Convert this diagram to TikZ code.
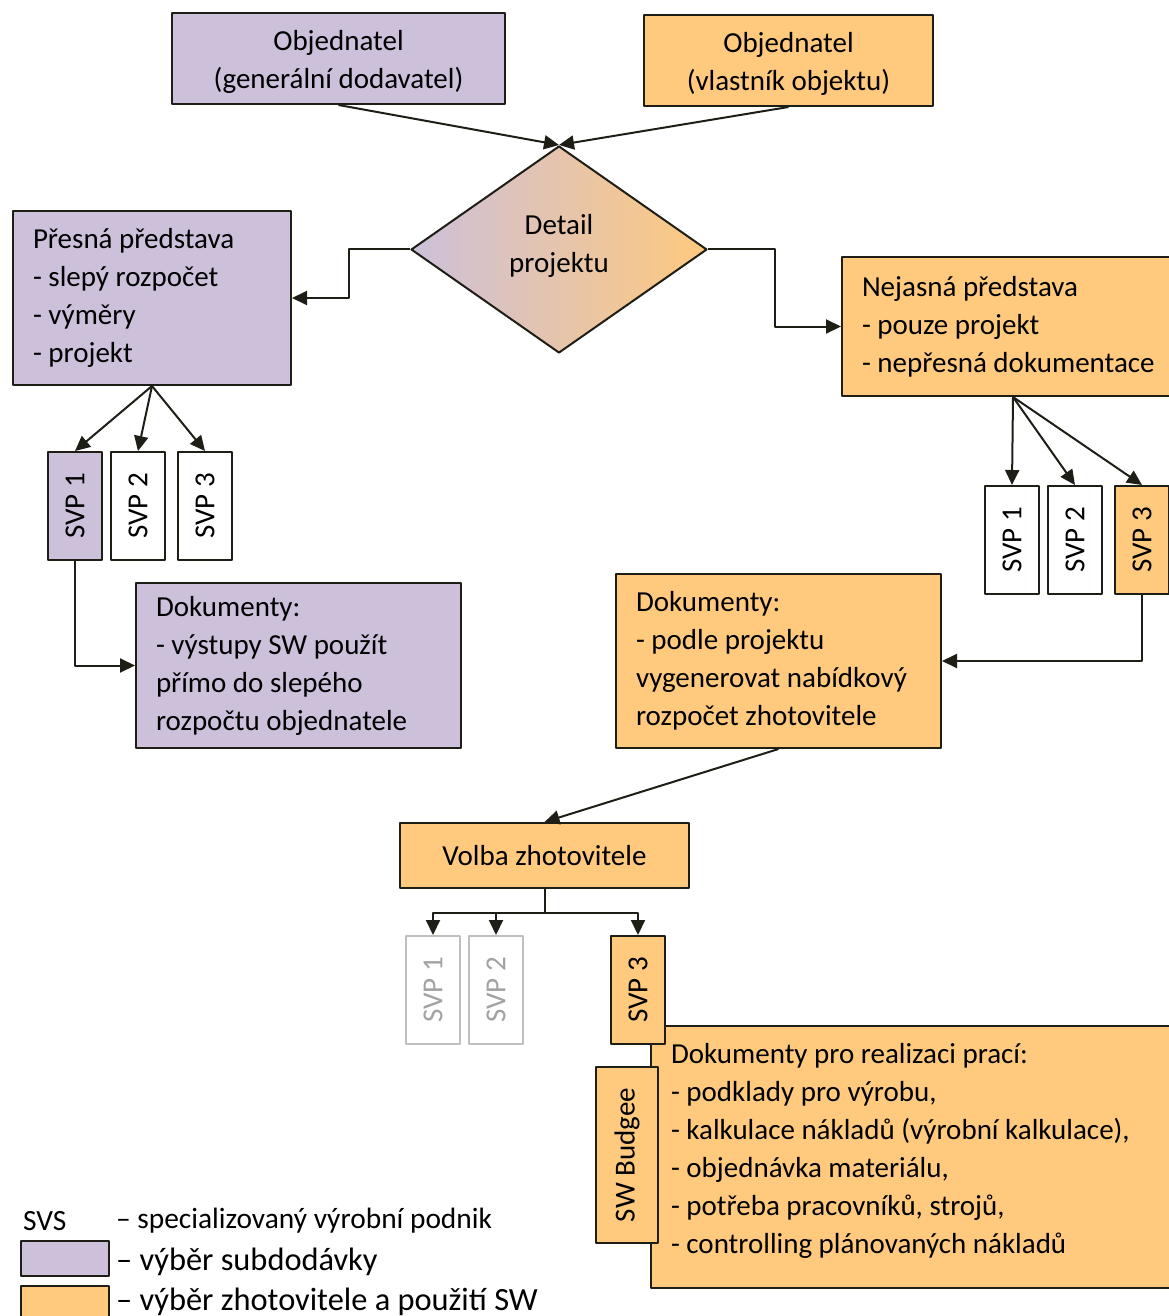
\documentclass[tikz,border=0pt]{standalone}
\usepackage{fontspec}
\setmainfont{Carlito}
\usepackage{graphicx}
\usetikzlibrary{shapes.geometric,arrows.meta}
\definecolor{fialova}{RGB}{204,192,218}
\definecolor{oranzova}{RGB}{255,201,126}
\definecolor{seda}{RGB}{191,191,191}
\definecolor{cara}{RGB}{30,30,22}
\begin{document}
\begin{tikzpicture}[x=0.5pt,y=-0.5pt,>={Triangle[length=7.5pt,width=7pt]},line join=round,
		font=\fontsize{14.5}{19}\selectfont,
		box/.style={draw=cara,line width=1pt,anchor=north west,inner xsep=10pt,align=flush left},
		cbox/.style={draw=cara,line width=1pt,anchor=north west,align=center},
		svp/.style={draw=cara,line width=1pt,minimum width=27pt,minimum height=54pt,inner sep=0pt},
		svpoff/.style={svp,draw=seda,text=seda!85!black},
		spoj/.style={->,draw=cara,line width=1pt}]
	\useasboundingbox (0,0) rectangle (1168,1316);
	% objednatele
	\node[cbox,fill=fialova,minimum width=166.5pt,minimum height=45.5pt] (objgd) at (171,12) {\mbox{}\\[-6pt]Objednatel\\(generální dodavatel)};
	\node[cbox,fill=oranzova,minimum width=144.5pt,minimum height=45.5pt] (objvo) at (643,14) {\mbox{}\\[-6pt]Objednatel\\(vlastník objektu)};
	\node[diamond,draw=cara,line width=1pt,left color=fialova,right color=oranzova,inner sep=0pt,aspect=1.43,
		minimum width=148pt,minimum height=103.5pt,align=center] (detail) at (559,249.5) {Detail\\projektu\\[-12.5pt]\mbox{}};
	\draw[spoj] (objgd.south) -- (detail.north);
	\draw[spoj] (objvo.south) -- (detail.north);
	% predstavy
	\node[box,fill=fialova,text width=119pt,minimum height=87pt] (presna) at (12,210) {Přesná představa\\- slepý rozpočet\\- výměry\\- projekt};
	\node[box,fill=oranzova,text width=151pt,minimum height=69.5pt] (nejasna) at (841,256) {Nejasná představa\\- pouze projekt\\- nepřesná dokumentace};
	\draw[spoj] (detail.west) -- ++(-61,0) |- (presna.east);
	\draw[spoj] (detail.east) -- ++(67,0) |- (nejasna.west);
	% SVP vlevo
	\node[svp,fill=fialova] (svpL1) at (75,506) {\rotatebox{90}{SVP 1}};
	\node[svp,fill=white] (svpL2) at (138,506) {\rotatebox{90}{SVP 2}};
	\node[svp,fill=white] (svpL3) at (205,506) {\rotatebox{90}{SVP 3}};
	\foreach \i in {1,2,3}
		\draw[spoj] (presna.south) -- (svpL\i.north);
	\node[box,fill=fialova,text width=142.5pt,minimum height=82.5pt] (dokL) at (135,582) {Dokumenty:\\- výstupy SW použít\\přímo do slepého\\rozpočtu objednatele};
	\draw[spoj] (svpL1.south) |- (dokL.west);
	% SVP vpravo
	\node[svp,fill=white] (svpR1) at (1012,540) {\rotatebox{90}{SVP 1}};
	\node[svp,fill=white] (svpR2) at (1075,540) {\rotatebox{90}{SVP 2}};
	\node[svp,fill=oranzova] (svpR3) at (1142,540) {\rotatebox{90}{SVP 3}};
	\foreach \i in {1,2,3}
		\draw[spoj] (nejasna.south) -- (svpR\i.north);
	\node[box,fill=oranzova,text width=142.5pt,minimum height=87pt] (dokR) at (615,573) {Dokumenty:\\- podle projektu\\vygenerovat nabídkový\\rozpočet zhotovitele};
	\draw[spoj] (svpR3.south) |- (dokR.east);
	% volba zhotovitele
	\node[cbox,fill=oranzova,minimum width=144.5pt,minimum height=32.5pt] (volba) at (399,822) {Volba zhotovitele};
	\draw[spoj] (dokR.south) -- (volba.north);
	\node[box,fill=oranzova,text width=250pt,minimum height=131pt] (dokReal) at (650,1025) {Dokumenty pro realizaci prací:\\- podklady pro výrobu,\\- kalkulace nákladů (výrobní kalkulace),\\- objednávka materiálu,\\- potřeba pracovníků, strojů,\\- controlling plánovaných nákladů\\[-10pt]\mbox{}};
	\node[svpoff,fill=white] (svpV1) at (433,990) {\rotatebox{90}{SVP 1}};
	\node[svpoff,fill=white] (svpV2) at (496,990) {\rotatebox{90}{SVP 2}};
	\node[svp,fill=oranzova] (svpV3) at (638,990) {\rotatebox{90}{SVP 3}};
	\node[svp,fill=oranzova,minimum width=31pt,minimum height=88pt] (budgee) at (627,1155) {\rotatebox{90}{SW Budgee}};
	\draw[draw=cara,line width=1pt] (volba.south) -- ++(0,24) coordinate (rozv);
	\foreach \i in {1,2,3}
		\draw[spoj] (rozv) -| (svpV\i.north);
	% legenda
	\node[anchor=west,font=\fontsize{14.7}{17}\selectfont] (svs) at (16,1221) {SVS};
	\node[anchor=west,font=\fontsize{14.7}{17}\selectfont] (svstxt) at (109,1221) {– specializovaný výrobní podnik};
	\node[draw=cara,line width=1pt,fill=fialova,anchor=north west,minimum width=44pt,minimum height=17.5pt,inner sep=0pt] (legF) at (20,1240) {};
	\node[anchor=west,font=\fontsize{16.2}{19}\selectfont] (legFtxt) at (109,1262) {– výběr subdodávky};
	\node[draw=cara,line width=1pt,fill=oranzova,anchor=north west,minimum width=44pt,minimum height=17.5pt,inner sep=0pt] (legO) at (20,1285) {};
	\node[anchor=west,font=\fontsize{16.2}{19}\selectfont] (legOtxt) at (109,1302) {– výběr zhotovitele a použití SW};
\end{tikzpicture}
\end{document}
